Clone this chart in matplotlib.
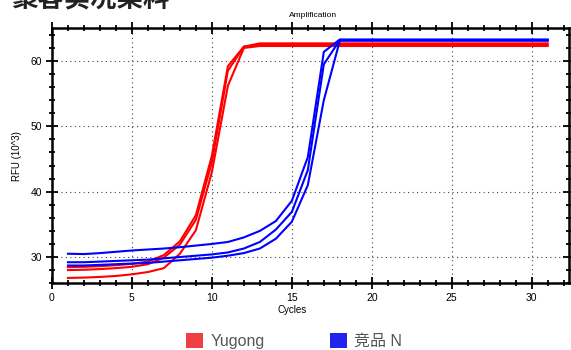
import matplotlib
matplotlib.use("Agg")
import matplotlib.pyplot as plt
import matplotlib.ticker as mticker
from matplotlib.patches import Patch

plt.rcParams["font.family"] = ["Liberation Sans", "Noto Sans CJK SC", "DejaVu Sans"]

# cycles 1..31, RFU in 10^3
cycles = list(range(1, 32))

yugong_1 = [28.45, 28.5, 28.6, 28.75, 28.95, 29.3, 30.3, 32.4, 36.4, 45.5, 59.2, 62.2] + [62.7] * 19
yugong_2 = [28.0, 28.05, 28.15, 28.3, 28.5, 28.9, 29.9, 31.9, 35.7, 44.5, 58.5, 62.2] + [62.5] * 19
yugong_3 = [26.8, 26.85, 26.95, 27.1, 27.35, 27.7, 28.3, 30.5, 34.1, 43.0, 56.2, 62.0] + [62.3] * 19

comp_1 = [30.5, 30.45, 30.6, 30.8, 31.0, 31.15, 31.3, 31.5, 31.75, 32.0, 32.3, 33.0,
          34.0, 35.5, 38.6, 45.3, 61.4] + [63.3] * 14
comp_2 = [29.2, 29.2, 29.3, 29.4, 29.5, 29.6, 29.8, 30.0, 30.2, 30.4, 30.7, 31.3,
          32.3, 34.2, 36.9, 43.3, 59.5] + [63.2] * 14
comp_3 = [28.7, 28.7, 28.8, 28.9, 29.0, 29.1, 29.3, 29.5, 29.7, 29.9, 30.2, 30.6,
          31.3, 32.8, 35.4, 41.0, 54.0] + [63.1] * 14

series = [
    ([yugong_1, yugong_2, yugong_3], "#ff0000"),
    ([comp_1, comp_2, comp_3], "#0000ff"),
]
legend_labels = ["Yugong", "竞品 N"]
legend_colors = ["#ee3f47", "#2323f0"]

fig = plt.figure(figsize=(5.71, 3.5), dpi=100)
ax = fig.add_axes([0.091, 0.191, 0.906, 0.728])

for group, color in series:
    for y in group:
        ax.plot(cycles, y, color=color, linewidth=1.5, solid_joinstyle="miter")

ax.set_xlim(0, 32.35)
ax.set_ylim(26, 65)
ax.xaxis.set_major_locator(mticker.MultipleLocator(5))
ax.xaxis.set_minor_locator(mticker.MultipleLocator(1))
ax.yaxis.set_major_locator(mticker.MultipleLocator(10))
ax.yaxis.set_minor_locator(mticker.MultipleLocator(2))
ax.tick_params(which="both", direction="inout", top=True, right=True,
               width=1.3, labelsize=7.5, pad=3)
ax.tick_params(which="major", length=8)
ax.tick_params(which="minor", length=4.5)
ax.grid(which="major", linestyle=(0, (1, 3)), color="#444444", linewidth=0.8)
for sp in ax.spines.values():
    sp.set_linewidth(1.8)

ax.set_ylabel("RFU (10^3)", fontsize=7, labelpad=6)
ax.set_xlabel("Cycles", fontsize=7, labelpad=0)
ax.xaxis.set_label_coords(0.465, -0.085)
fig.text(0.548, 0.957, "Amplification", fontsize=6, ha="center", va="center")

# header text cut off at the top edge
fig.text(0.02, 1 - 7 / 350, "聚客实况某料", fontsize=19, fontweight="bold",
         ha="left", va="baseline", color="#222222")

handles = [Patch(facecolor=c, edgecolor="none") for c in legend_colors]
leg = fig.legend(handles, legend_labels, loc="center", bbox_to_anchor=(0.515, 0.025),
                 ncol=2, frameon=False, fontsize=11.5, handlelength=1.05,
                 handleheight=1.05, handletextpad=0.45, columnspacing=4.1)
for t in leg.get_texts():
    t.set_color("#555555")

fig.savefig("out.png", dpi=100)
